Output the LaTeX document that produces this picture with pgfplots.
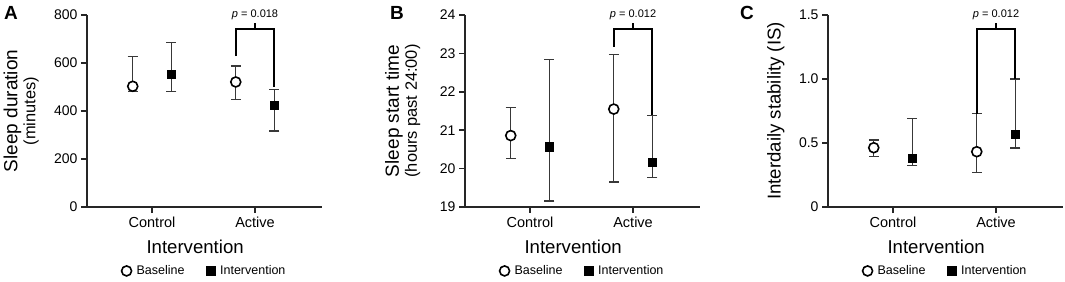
\documentclass[border=0pt]{standalone}
\usepackage{pgfplots}
\pgfplotsset{compat=1.18}
\usepackage{fontspec}
\setmainfont{Liberation Sans}
\tikzset{plab/.style={font=\fontsize{11}{12}\selectfont}}
\pgfplotsset{
  panel/.style={
    scale only axis, width=235pt, height=192pt, clip=false,
    axis x line=bottom, axis y line=left,
    axis line style={-, line width=1.6pt, black!85},
    tick style={line width=1.6pt, black!85},
    tick align=outside, major tick length=6pt,
    xmin=0.369, xmax=2.65,
    xtick={1,2}, xticklabels={Control,Active},
    xticklabel style={font=\fontsize{14.5}{16}\selectfont},
    yticklabel style={font=\fontsize{14}{16}\selectfont},
    xlabel={Intervention},
    xlabel style={font=\fontsize{18.6}{20}\selectfont, at={(axis description cs:0.46,-0.208)}, anchor=center},
    legend style={draw=none, at={(axis description cs:0.5,-0.333)}, anchor=center,
      legend columns=2, font=\fontsize{12.5}{14}\selectfont,
      /tikz/every odd column/.append style={column sep=3pt},
      /tikz/every even column/.append style={column sep=20pt}},
    legend cell align=left,
    /pgf/number format/assume math mode=true,
  },
  base/.style={only marks, mark=*, mark size=5pt, mark options={fill=white, draw=black, line width=1.6pt},
    error bars/.cd, y dir=both, y explicit,
    error bar style={line width=1.3pt, black!78},
    error mark options={rotate=90, line width=1.3pt, mark size=5pt, black!78}},
  inter/.style={only marks, mark=square*, mark size=4.3pt, mark options={fill=black, draw=black},
    error bars/.cd, y dir=both, y explicit,
    error bar style={line width=1.3pt, black!78},
    error mark options={rotate=90, line width=1.3pt, mark size=5pt, black!78}},
  bracket/.style={line width=1.7pt, black, forget plot, mark=none},
}
\begin{document}
\begin{tikzpicture}
% Panel letters
\node[font=\fontsize{19}{20}\selectfont\bfseries] at (11pt,268pt) {A};
\node[font=\fontsize{19}{20}\selectfont\bfseries] at (397pt,268pt) {B};
\node[font=\fontsize{19}{20}\selectfont\bfseries] at (747pt,268pt) {C};
% Panel A
\begin{scope}[shift={(87pt,74pt)}]
\begin{axis}[panel,
  ymin=0, ymax=800, ytick={0,200,400,600,800},
  ylabel={\fontsize{19}{21}\selectfont Sleep duration\\[1pt]\fontsize{16.4}{18}\selectfont (minutes)},
  ylabel style={align=center, at={(axis description cs:-0.28,0.5)}, anchor=center}]
\addplot+[base] coordinates {(0.813,503) += (0,123) -= (0,21) (1.813,521) += (0,66) -= (0,72)};
\addplot+[inter] coordinates {(1.187,554) += (0,132) -= (0,72) (2.187,425) += (0,65) -= (0,108)};
\addplot[bracket] coordinates {(1.813,629) (1.813,742) (2.187,742) (2.187,500)};
\addplot[bracket] coordinates {(2,742) (2,767)};
\node[plab] at (axis cs:2,800) {\textit{p} = 0.018};
\legend{Baseline, Intervention}
\end{axis}
\end{scope}
% Panel B
\begin{scope}[shift={(465pt,74pt)}]
\begin{axis}[panel,
  ymin=19, ymax=24, ytick={19,20,21,22,23,24},
  ylabel={\fontsize{19}{21}\selectfont Sleep start time\\[1pt]\fontsize{16.4}{18}\selectfont (hours past 24:00)},
  ylabel style={align=center, at={(axis description cs:-0.265,0.5)}, anchor=center}]
\addplot+[base] coordinates {(0.813,20.86) += (0,0.73) -= (0,0.60) (1.813,21.55) += (0,1.43) -= (0,1.90)};
\addplot+[inter] coordinates {(1.187,20.57) += (0,2.28) -= (0,1.41) (2.187,20.17) += (0,1.22) -= (0,0.41)};
\addplot[bracket] coordinates {(1.813,23.17) (1.813,23.64) (2.187,23.64) (2.187,21.39)};
\addplot[bracket] coordinates {(2,23.64) (2,23.79)};
\node[plab] at (axis cs:2,24) {\textit{p} = 0.012};
\legend{Baseline, Intervention}
\end{axis}
\end{scope}
% Panel C
\begin{scope}[shift={(828pt,74pt)}]
\begin{axis}[panel,
  ymin=0, ymax=1.5, ytick={0,0.5,1.0,1.5},
  yticklabels={0,0.5,1.0,1.5},
  ylabel={\fontsize{18.6}{20}\selectfont Interdaily stability (IS)},
  ylabel style={align=center, at={(axis description cs:-0.222,0.5)}, anchor=center}]
\addplot+[base] coordinates {(0.813,0.463) += (0,0.060) -= (0,0.070) (1.813,0.432) += (0,0.297) -= (0,0.164)};
\addplot+[inter] coordinates {(1.187,0.380) += (0,0.313) -= (0,0.057) (2.187,0.570) += (0,0.430) -= (0,0.109)};
\addplot[bracket] coordinates {(1.813,0.729) (1.813,1.39) (2.187,1.39) (2.187,1.0)};
\addplot[bracket] coordinates {(2,1.39) (2,1.4375)};
\node[plab] at (axis cs:2,1.5) {\textit{p} = 0.012};
\legend{Baseline, Intervention}
\end{axis}
\end{scope}
\pgfresetboundingbox
\useasboundingbox (0pt,0pt) rectangle (1065pt,281pt);
\end{tikzpicture}
\end{document}
